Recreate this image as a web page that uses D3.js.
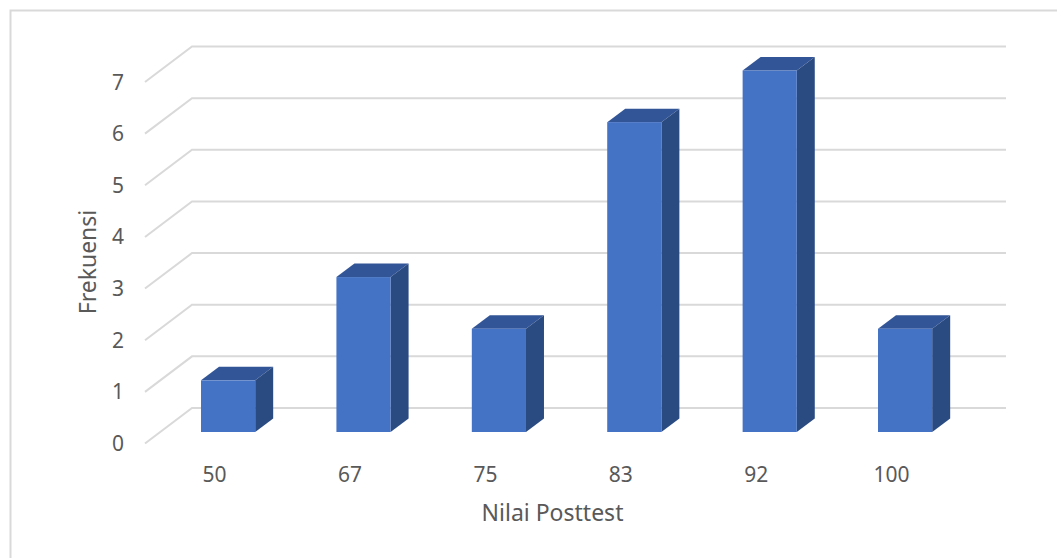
<!DOCTYPE html>
<html>
<head>
<meta charset="utf-8">
<script src="https://cdn.jsdelivr.net/npm/d3@7/dist/d3.min.js"></script>
<style>
  html, body { margin: 0; padding: 0; background: #fff; }
  svg { display: block; }
  text { font-family: "Noto Sans", "Open Sans", sans-serif; fill: #595959; }
</style>
</head>
<body>
<svg id="chart" width="1057" height="558"></svg>
<script>
// Frequency of post-test scores
const categories = ["50", "67", "75", "83", "92", "100"];
const frequencies = [1, 3, 2, 6, 7, 2];
const valueTicks = [0, 1, 2, 3, 4, 5, 6, 7];
const xAxisTitle = "Nilai Posttest";
const yAxisTitle = "Frekuensi";

const svg = d3.select("#chart");
const tickFontSize = 21;
const titleFontSize = 23;

// Frame of the chart area: only its top and left edges reach into view
svg.append("path")
  .attr("d", "M10.5,558V10.5H1057")
  .attr("fill", "none")
  .attr("stroke", "#d9d9d9")
  .attr("stroke-width", 2);

// Value scale measured on the back wall of the 3D plot
const yBack = d3.scaleLinear().domain([0, 7]).range([408, 46.5]);
const wallDepth = { dx: 47, dy: 35.5 };
const barBaseOffset = 24;           // bar front sits this far below the back-wall level
const barDepth = { dx: 18, dy: 13.5 };
const wallLeft = 192, wallRight = 1006;

const x = d3.scaleBand()
  .domain(categories)
  .range([160.4, 972.8])
  .paddingInner(0.6)
  .paddingOuter(0.3);

// Gridlines: a slanted floor/side segment followed by the back-wall run
svg.append("g").selectAll("path")
  .data(valueTicks)
  .join("path")
  .attr("d", d => `M${wallLeft - wallDepth.dx},${yBack(d) + wallDepth.dy}L${wallLeft},${yBack(d)}H${wallRight}`)
  .attr("fill", "none")
  .attr("stroke", "#d9d9d9")
  .attr("stroke-width", 2);

// Value labels
svg.append("g").selectAll("text")
  .data(valueTicks)
  .join("text")
  .attr("x", 118)
  .attr("y", d => yBack(d) + wallDepth.dy + 7.5)
  .attr("text-anchor", "middle")
  .attr("font-size", tickFontSize)
  .text(d => d);

// Category labels
svg.append("g").selectAll("text")
  .data(categories)
  .join("text")
  .attr("x", d => x(d) + x.bandwidth() / 2 - 13.5)
  .attr("y", 481.5)
  .attr("text-anchor", "middle")
  .attr("font-size", tickFontSize)
  .text(d => d);

// Three-faced bars
const bars = svg.append("g").selectAll("g")
  .data(categories.map((c, i) => ({ c, v: frequencies[i] })))
  .join("g");

const frontTop = d => yBack(d.v) + barBaseOffset;
const frontBottom = yBack(0) + barBaseOffset;

bars.append("path") // top face
  .attr("fill", "#325597")
  .attr("d", d => {
    const l = x(d.c), r = l + x.bandwidth(), t = frontTop(d);
    return `M${l},${t}L${l + barDepth.dx},${t - barDepth.dy}H${r + barDepth.dx}L${r},${t}Z`;
  });

bars.append("path") // side face
  .attr("fill", "#2a4a82")
  .attr("d", d => {
    const r = x(d.c) + x.bandwidth(), t = frontTop(d);
    return `M${r},${t}L${r + barDepth.dx},${t - barDepth.dy}V${frontBottom - barDepth.dy}L${r},${frontBottom}Z`;
  });

bars.append("rect") // front face
  .attr("fill", "#4472c4")
  .attr("x", d => x(d.c))
  .attr("y", frontTop)
  .attr("width", x.bandwidth())
  .attr("height", d => frontBottom - frontTop(d));

// Axis titles
svg.append("text")
  .attr("x", 552.5)
  .attr("y", 521)
  .attr("text-anchor", "middle")
  .attr("font-size", titleFontSize)
  .text(xAxisTitle);

svg.append("text")
  .attr("transform", "translate(96,262) rotate(-90)")
  .attr("text-anchor", "middle")
  .attr("font-size", titleFontSize)
  .text(yAxisTitle);
</script>
</body>
</html>
